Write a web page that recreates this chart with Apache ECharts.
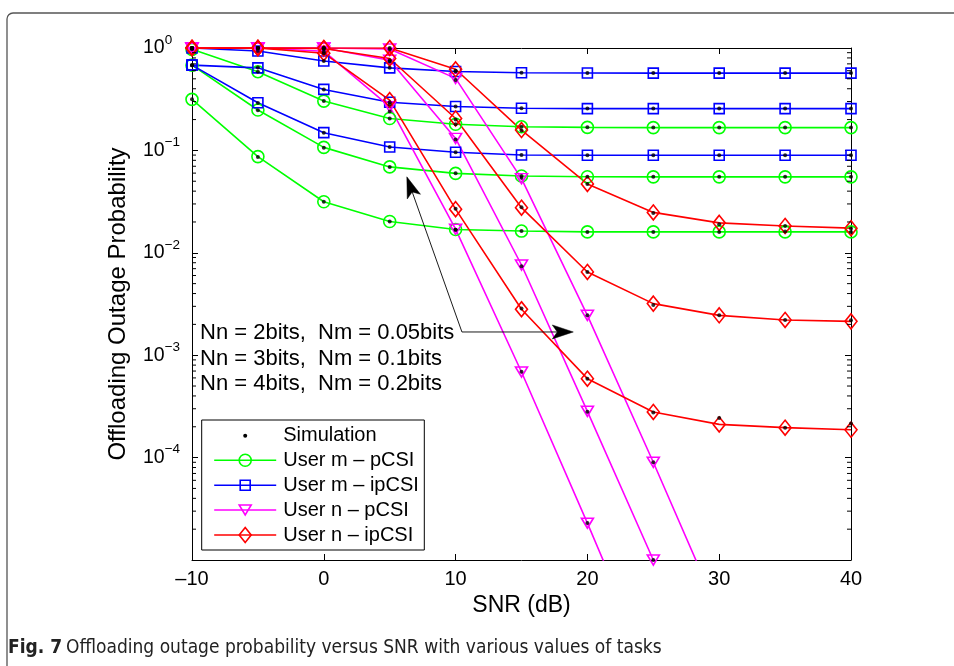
<!DOCTYPE html>
<html><head><meta charset="utf-8">
<script src="https://cdn.jsdelivr.net/npm/echarts@6/dist/echarts.min.js"></script>
<style>html,body{margin:0;padding:0;background:#fff}#c{width:954px;height:666px}</style>
</head><body><div id="c"></div>
<script>
// ---------------- data ----------------
const snr = [-10, -5, 0, 5, 10, 15, 20, 25, 30, 35, 40];
// User m - pCSI (three task sizes)
const mPCSI_a = [0.97, 0.587, 0.303, 0.205, 0.180, 0.170, 0.168, 0.167, 0.167, 0.167, 0.167];
const mPCSI_b = [0.68, 0.248, 0.107, 0.069, 0.0596, 0.0562, 0.0553, 0.0552, 0.0552, 0.0552, 0.0552];
const mPCSI_c = [0.315, 0.087, 0.0315, 0.0202, 0.0169, 0.0163, 0.0160, 0.0160, 0.0160, 0.0160, 0.0160];
// User m - ipCSI
const mIPCSI_a = [1.0, 0.935, 0.746, 0.64, 0.59, 0.574, 0.570, 0.569, 0.569, 0.569, 0.569];
const mIPCSI_b = [0.68, 0.64, 0.394, 0.295, 0.268, 0.258, 0.256, 0.256, 0.256, 0.256, 0.256];
const mIPCSI_c = [0.68, 0.292, 0.149, 0.108, 0.0958, 0.0903, 0.0898, 0.0898, 0.0898, 0.0898, 0.0898];
// User n - pCSI
const nPCSI_a = [1, 1, 1, 0.98, 0.505, 0.053, 0.00245, 9.0e-5, 3.0e-6, null, null];
const nPCSI_b = [1, 1, 1, 0.76, 0.131, 0.0076, 2.83e-4, 1.0e-5, 3.5e-7, null, null];
const nPCSI_c = [1, 1, 0.93, 0.267, 0.017, 6.85e-4, 2.29e-5, 7.0e-7, null, null, null];
// User n - ipCSI
const nIPCSI_a = [1, 1, 1, 1, 0.62, 0.158, 0.047, 0.0248, 0.0196, 0.0183, 0.0174];
const nIPCSI_b = [1, 1, 0.99, 0.79, 0.205, 0.0276, 0.0065, 0.00319, 0.00245, 0.00221, 0.00214];
const nIPCSI_c = [1, 1, 0.89, 0.31, 0.0267, 0.00281, 5.9e-4, 2.79e-4, 2.11e-4, 1.96e-4, 1.87e-4];
// Simulation points
const sim_mPCSI_a = [0.97, 0.587, 0.303, 0.205, 0.180, 0.170, 0.168, 0.167, 0.167, 0.167, 0.167];
const sim_mPCSI_b = [0.68, 0.246, 0.106, 0.069, 0.0598, 0.0562, 0.0553, 0.0552, 0.0552, 0.0553, 0.0552];
const sim_mPCSI_c = [0.315, 0.086, 0.0315, 0.0202, 0.0168, 0.0163, 0.0160, 0.0160, 0.0160, 0.0161, 0.0160];
const sim_mIPCSI_a = [0.99, 0.935, 0.746, 0.64, 0.59, 0.574, 0.570, 0.569, 0.569, 0.569, 0.569];
const sim_mIPCSI_b = [0.68, 0.645, 0.394, 0.295, 0.268, 0.258, 0.256, 0.256, 0.256, 0.256, 0.256];
const sim_mIPCSI_c = [0.68, 0.290, 0.149, 0.108, 0.0958, 0.0903, 0.0898, 0.0898, 0.0898, 0.0898, 0.0898];
const sim_nPCSI_a = [1, 1, 1, 0.97, 0.486, 0.054, 0.00245, 9.0e-5, null, null, null];
const sim_nPCSI_b = [1, 1, 0.99, 0.74, 0.128, 0.0074, 2.8e-4, 1.0e-5, null, null, null];
const sim_nPCSI_c = [1, 1, 0.92, 0.24, 0.0168, 6.9e-4, 2.3e-5, null, null, null, null];
const sim_nIPCSI_a = [1, 1, 1, 1, 0.60, 0.156, 0.047, 0.0245, 0.0190, 0.0183, 0.0173];
const sim_nIPCSI_b = [1, 1, 0.98, 0.76, 0.200, 0.0278, 0.0065, 0.00310, 0.00245, 0.00221, 0.00220];
const sim_nIPCSI_c = [1, 1, 0.89, 0.28, 0.0270, 0.00285, 5.9e-4, 2.75e-4, 2.43e-4, 1.96e-4, 2.15e-4];

const legendNames = ['Simulation', 'User m \u2013 pCSI', 'User m \u2013 ipCSI', 'User n \u2013 pCSI', 'User n \u2013 ipCSI'];
const annotationLines = ['Nn = 2bits,  Nm = 0.05bits', 'Nn = 3bits,  Nm = 0.1bits', 'Nn = 4bits,  Nm = 0.2bits'];
const captionBold = 'Fig. 7';
const captionText = 'Offloading outage probability versus SNR with various values of tasks';
// arrow anchors in data coordinates [SNR, probability]
const arrowTail = [10.48, 0.001686];
const arrowTips = [[6.30, 0.0552], [18.93, 0.001686]];

// ---------------- chart ----------------
const FONT = 'Liberation Sans, Arial, Helvetica, sans-serif';
const CAPFONT = '"Liberation Sans Narrow", "DejaVu Sans Condensed", "Open Sans", sans-serif';
const GREEN = '#00ff00', BLUE = '#0000ff', MAG = '#ff00ff', RED = '#ff0000';
const toPairs = arr => snr.map((x, i) => [x, arr[i]]);

function lineSeries(name, arr, color, symbol, size, rotate) {
  return {
    name, type: 'line', data: toPairs(arr), connectNulls: false,
    symbol, symbolSize: size, symbolRotate: rotate || 0,
    showAllSymbol: true, clip: true,
    lineStyle: { color, width: 1.6 },
    itemStyle: { color: 'rgba(255,255,255,0)', borderColor: color, borderWidth: 1.6 },
    emphasis: { disabled: true }, animation: false, z: 2
  };
}
const simAll = [sim_mPCSI_a, sim_mPCSI_b, sim_mPCSI_c, sim_mIPCSI_a, sim_mIPCSI_b, sim_mIPCSI_c,
  sim_nPCSI_a, sim_nPCSI_b, sim_nPCSI_c, sim_nIPCSI_a, sim_nIPCSI_b, sim_nIPCSI_c];
const simData = [];
simAll.forEach(a => a.forEach((v, i) => { if (v != null) simData.push([snr[i], v]); }));

const series = [
  lineSeries(legendNames[1], mPCSI_a, GREEN, 'circle', 12),
  lineSeries(legendNames[1], mPCSI_b, GREEN, 'circle', 12),
  lineSeries(legendNames[1], mPCSI_c, GREEN, 'circle', 12),
  lineSeries(legendNames[2], mIPCSI_a, BLUE, 'rect', 10),
  lineSeries(legendNames[2], mIPCSI_b, BLUE, 'rect', 10),
  lineSeries(legendNames[2], mIPCSI_c, BLUE, 'rect', 10),
  lineSeries(legendNames[3], nPCSI_a, MAG, 'triangle', [12, 10], 180),
  lineSeries(legendNames[3], nPCSI_b, MAG, 'triangle', [12, 10], 180),
  lineSeries(legendNames[3], nPCSI_c, MAG, 'triangle', [12, 10], 180),
  lineSeries(legendNames[4], nIPCSI_a, RED, 'diamond', [12, 15]),
  lineSeries(legendNames[4], nIPCSI_b, RED, 'diamond', [12, 15]),
  lineSeries(legendNames[4], nIPCSI_c, RED, 'diamond', [12, 15]),
  { name: legendNames[0], type: 'scatter', data: simData, symbol: 'circle', symbolSize: 4,
    itemStyle: { color: '#000' }, z: 5, animation: false, emphasis: { disabled: true } }
];

const chart = echarts.init(document.getElementById('c'), null, { renderer: 'canvas' });
function axisCommon() {
  return {
    axisLine: { show: true, onZero: false, lineStyle: { color: '#000', width: 1 } },
    axisTick: { show: true, inside: true, length: 6, lineStyle: { color: '#000', width: 1 } },
    splitLine: { show: false }
  };
}
chart.setOption({
  animation: false,
  textStyle: { fontFamily: FONT },
  grid: { left: 192, right: 103, top: 48, bottom: 106, containLabel: false },
  xAxis: [
    Object.assign({
      type: 'value', min: -10, max: 40, interval: 10, position: 'bottom',
      name: 'SNR (dB)', nameLocation: 'middle', nameGap: 34,
      nameTextStyle: { fontSize: 23, color: '#000', fontFamily: FONT },
      axisLabel: { fontSize: 20, color: '#000', margin: 9, fontFamily: FONT,
        formatter: v => (v < 0 ? '\u2013' + Math.abs(v) : String(v)) }
    }, axisCommon()),
    Object.assign({
      type: 'value', min: -10, max: 40, interval: 10, position: 'top',
      axisLabel: { show: false }
    }, axisCommon())
  ],
  yAxis: [
    Object.assign({
      type: 'log', logBase: 10, min: 1e-5, max: 1, position: 'left',
      name: 'Offloading Outage Probability', nameLocation: 'middle', nameGap: 62,
      nameTextStyle: { fontSize: 24, color: '#000', fontFamily: FONT },
      axisLabel: {
        show: true, align: 'left', margin: 49, color: '#000', fontFamily: FONT,
        showMinLabel: false,
        formatter: v => {
          const e = Math.round(Math.log10(v));
          if (e <= -5) return '';
          return '{b|10}{e|' + (e < 0 ? '\u2212' + (-e) : String(e)) + '}';
        },
        rich: {
          b: { fontSize: 19.5, lineHeight: 30, fontFamily: FONT, color: '#000' },
          e: { fontSize: 13.5, lineHeight: 13, verticalAlign: 'top', fontFamily: FONT, color: '#000' }
        }
      }
    }, axisCommon()),
    Object.assign({
      type: 'log', logBase: 10, min: 1e-5, max: 1, position: 'right',
      axisLabel: { show: false }
    }, axisCommon())
  ],
  series
});

// ---------------- decorations ----------------
function buildGraphics() {
  const g = [];
  // figure frame (top + left with rounded corner)
  g.push({ type: 'rect', shape: { x: 7, y: 13, width: 1200, height: 900, r: 6 },
    style: { fill: 'none', stroke: '#555', lineWidth: 1.3 }, z: 0, silent: true });
  // minor log ticks
  const left = chart.convertToPixel({ xAxisIndex: 0 }, -10);
  const right = chart.convertToPixel({ xAxisIndex: 0 }, 40);
  for (let n = -5; n < 0; n++) {
    for (let k = 2; k <= 9; k++) {
      const y = chart.convertToPixel({ yAxisIndex: 0 }, k * Math.pow(10, n));
      g.push({ type: 'line', shape: { x1: left, y1: y, x2: left + 4, y2: y }, style: { stroke: '#000', lineWidth: 1 }, z: 10, silent: true });
      g.push({ type: 'line', shape: { x1: right, y1: y, x2: right - 4, y2: y }, style: { stroke: '#000', lineWidth: 1 }, z: 10, silent: true });
    }
  }
  // annotation text
  const ax = left + 8;
  const ay0 = chart.convertToPixel({ yAxisIndex: 0 }, arrowTail[1]);
  annotationLines.forEach((t, i) => {
    g.push({ type: 'text', x: ax, y: ay0 + 1 + i * 25.7, style: { text: t, font: '22px ' + FONT, fill: '#000', textVerticalAlign: 'middle', textAlign: 'left' }, z: 20 });
  });
  // arrows
  const tail = chart.convertToPixel({ gridIndex: 0 }, arrowTail);
  arrowTips.forEach(tipD => {
    const tip = chart.convertToPixel({ gridIndex: 0 }, tipD);
    const dx = tip[0] - tail[0], dy = tip[1] - tail[1];
    const L = Math.hypot(dx, dy), ux = dx / L, uy = dy / L, px = -uy, py = ux;
    const hl = 21, hw = 7, notch = 16;
    const bx = tip[0] - ux * hl, by = tip[1] - uy * hl;
    const nx = tip[0] - ux * notch, ny = tip[1] - uy * notch;
    g.push({ type: 'line', shape: { x1: tail[0], y1: tail[1], x2: nx, y2: ny }, style: { stroke: '#000', lineWidth: 0.9 }, z: 20, silent: true });
    g.push({ type: 'polygon', shape: { points: [tip, [bx + px * hw, by + py * hw], [nx, ny], [bx - px * hw, by - py * hw]] },
      style: { fill: '#000', stroke: '#000', lineWidth: 0.5 }, z: 20, silent: true });
  });
  // legend box
  const lx = left + 9.7, ly = 420, lw = 222.6, lh = 130;
  g.push({ type: 'rect', shape: { x: lx, y: ly, width: lw, height: lh }, style: { fill: '#fff', stroke: '#000', lineWidth: 1 }, z: 30 });
  const rows = [435.7, 460.3, 485.3, 510, 535];
  const colors = [null, GREEN, BLUE, MAG, RED];
  const x1 = lx + 12.5, x2 = lx + 74.5, xm = (x1 + x2) / 2, tx = lx + 81.5;
  rows.forEach((y, i) => {
    g.push({ type: 'text', x: tx, y: y, style: { text: legendNames[i], font: '20px ' + FONT, fill: '#000', textVerticalAlign: 'middle' }, z: 31 });
    if (i === 0) {
      g.push({ type: 'circle', shape: { cx: xm, cy: y, r: 2 }, style: { fill: '#000' }, z: 31 });
      return;
    }
    const c = colors[i];
    g.push({ type: 'line', shape: { x1, y1: y, x2, y2: y }, style: { stroke: c, lineWidth: 1.6 }, z: 31 });
    const st = { fill: 'none', stroke: c, lineWidth: 1.6 };
    if (i === 1) g.push({ type: 'circle', shape: { cx: xm, cy: y, r: 6 }, style: st, z: 32 });
    if (i === 2) g.push({ type: 'rect', shape: { x: xm - 5, y: y - 5, width: 10, height: 10 }, style: st, z: 32 });
    if (i === 3) g.push({ type: 'polygon', shape: { points: [[xm - 6, y - 5], [xm + 6, y - 5], [xm, y + 5]] }, style: st, z: 32 });
    if (i === 4) g.push({ type: 'polygon', shape: { points: [[xm, y - 7.5], [xm + 6, y], [xm, y + 7.5], [xm - 6, y]] }, style: st, z: 32 });
  });
  // caption
  g.push({ type: 'text', x: 8, y: 648, style: { text: captionBold, font: 'bold 19px ' + CAPFONT, fill: '#222', textVerticalAlign: 'middle' }, z: 20 });
  g.push({ type: 'text', x: 66, y: 648, style: { text: captionText, font: '19px ' + CAPFONT, fill: '#222', textVerticalAlign: 'middle' }, z: 20 });
  return g;
}
chart.setOption({ graphic: buildGraphics() });
</script>
</body></html>
